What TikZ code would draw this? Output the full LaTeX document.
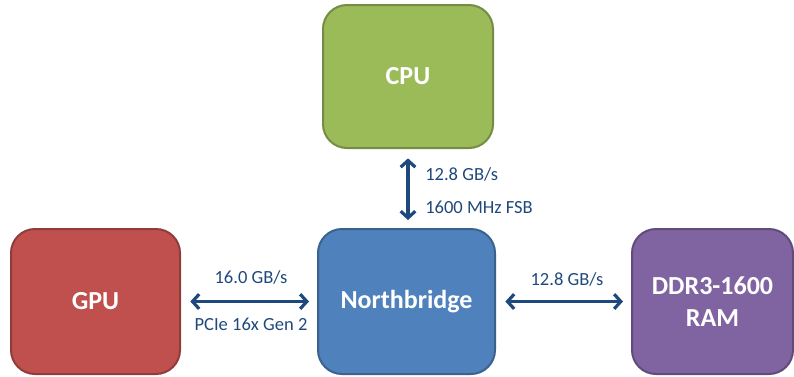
\documentclass[tikz,border=0pt]{standalone}
\usepackage{fontspec}
\setmainfont{Carlito}
\usetikzlibrary{arrows.meta, positioning}
\definecolor{cpugreen}{HTML}{9BBB59}
\definecolor{gpured}{HTML}{C0504D}
\definecolor{nbblue}{HTML}{4F81BD}
\definecolor{rampurple}{HTML}{8064A2}
\definecolor{linkblue}{HTML}{1F497D}

\begin{document}
\begin{tikzpicture}[x=0.75pt, y=-0.75pt,
  chip/.style={line width=1.5pt, rounded corners=18pt, text=white, inner sep=0pt,
    font=\fontsize{19.5}{24}\selectfont\bfseries, align=center, minimum height=108.75pt},
  link/.style={linkblue, line width=2.4pt, {Straight Barb[length=5pt,width=11pt]}-{Straight Barb[length=5pt,width=11pt]},
    shorten <=7pt, shorten >=6pt},
  rate/.style={text=linkblue, font=\fontsize{13.9}{16}\selectfont, inner sep=0pt}]
  \useasboundingbox (0,0) rectangle (794,376);

  % Chips
  \node[chip, fill=cpugreen, draw=cpugreen!75!black, minimum width=127.5pt, minimum height=107.25pt] (cpu) at (408, 76.5) {CPU};
  \node[chip, fill=gpured, draw=gpured!75!black, minimum width=126.75pt] (gpu) at (95.5, 301.5) {GPU};
  \node[chip, fill=nbblue, draw=nbblue!75!black, minimum width=132.75pt] (nb) at (406.5, 301.5) {Northbridge};
  \node[chip, fill=rampurple, draw=rampurple!75!black, minimum width=120.75pt] (ram) at (712.5, 301.5) {DDR3-1600\\RAM};

  % Buses
  \draw[link] (cpu.south) -- (cpu.south |- nb.north);
  \draw[link] (gpu.east) -- (nb.west);
  \draw[link] (nb.east) -- (ram.west);

  % Bandwidths
  \node[rate, anchor=west] (fsbRate) at (425, 174) {12.8 GB/s};
  \node[rate, anchor=west] (fsb) at (425, 207) {1600 MHz FSB};
  \node[rate] (pcieRate) at (251, 277) {16.0 GB/s};
  \node[rate] (pcie) at (251, 324) {PCIe 16x Gen 2};
  \node[rate] (ramRate) at (567, 279) {12.8 GB/s};
\end{tikzpicture}
\end{document}
